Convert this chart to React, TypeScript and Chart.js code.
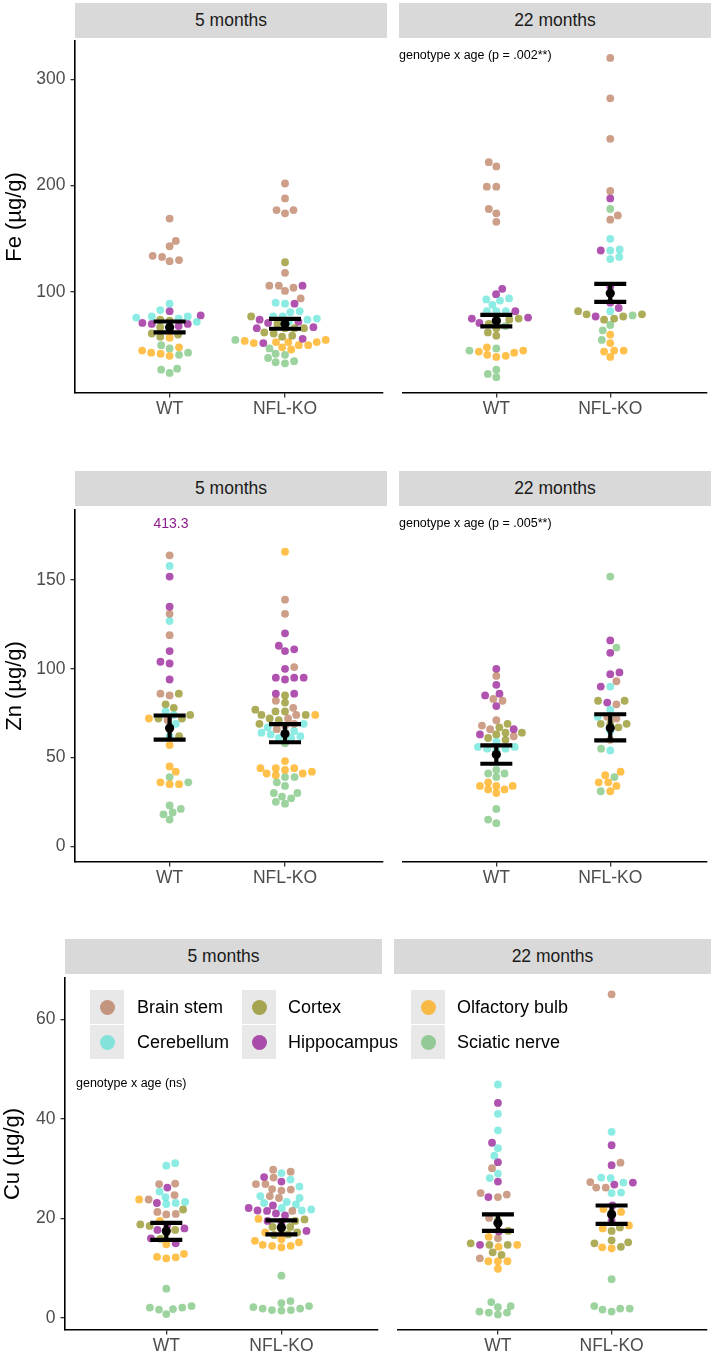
import React, { useEffect, useRef } from "react";
import { Chart, registerables } from "chart.js";
Chart.register(...registerables);

// ---------- categories ----------
const TISSUES = ["Brain stem", "Cerebellum", "Cortex", "Hippocampus", "Olfactory bulb", "Sciatic nerve"];
const TISSUE_COLORS = [
  "rgba(168,90,52,0.58)",
  "rgba(64,224,208,0.6)",
  "rgba(128,128,0,0.65)",
  "rgba(139,0,139,0.68)",
  "rgba(255,165,0,0.7)",
  "rgba(76,175,80,0.55)",
];
const GENOTYPES = ["WT", "NFL-KO"];
const AGES = ["5 months", "22 months"];

// ---------- Fe (µg/g), order of inner arrays follows TISSUES ----------
const FE_5M_WT = [
  [169, 148, 143, 134, 133, 130, 129],
  [72, 76, 83, 89, 77, 75, 77],
  [74, 61, 58, 67, 60, 73],
  [78, 68, 82, 66, 70, 70, 71],
  [57, 43, 40, 45, 42, 48],
  [50, 47, 41, 43, 27, 24, 28],
];
const FE_5M_KO = [
  [202, 188, 177, 174, 177, 118, 106, 104, 106, 101, 94],
  [89, 77, 81, 90, 82, 77, 74, 72, 75],
  [128, 70, 61, 66, 58, 66, 77, 59, 66, 62],
  [106, 89, 72, 66, 74, 56, 52, 67, 71],
  [53, 50, 53, 54, 48, 52, 46, 55, 50, 53],
  [55, 47, 38, 42, 34, 33, 41, 35],
];
const FE_22M_WT = [
  [222, 218, 199, 199, 178, 174, 166],
  [93, 94, 88, 82, 82, 92, 82],
  [70, 75, 74, 62, 59, 66],
  [103, 98, 82, 76, 71, 75],
  [44, 39, 48, 41, 45, 40, 43],
  [68, 73, 45, 47, 23, 20, 27],
];
const FE_22M_KO = [
  [320, 282, 244, 195, 172, 168],
  [150, 133, 139, 140, 131, 82],
  [79, 82, 74, 77, 75, 79],
  [188, 139, 105, 90, 77, 85],
  [45, 44, 39, 52, 45, 60],
  [178, 64, 55, 69, 78],
];
const FE_5M_MEAN = [66.8, 70.2];
const FE_5M_LOW = [62.0, 65.5];
const FE_5M_HIGH = [72.3, 74.8];
const FE_22M_MEAN = [73.0, 98.8];
const FE_22M_LOW = [67.7, 90.7];
const FE_22M_HIGH = [78.6, 107.7];
const FE_TICKS = [100, 200, 300];

// ---------- Zn (µg/g) ----------
const ZN_5M_WT = [
  [164, 131, 119, 85, 86, 66, 71],
  [158, 127, 74, 69, 76, 62],
  [86, 78, 80, 72, 74, 62, 72],
  [152, 135, 110, 103, 104, 94],
  [72, 57, 45, 42, 35, 36, 35],
  [36, 39, 21, 18, 15, 23, 19],
];
const ZN_5M_KO = [
  [139, 131, 101, 82, 78, 72, 69, 68, 74, 66],
  [62, 64, 63, 69, 65, 61, 64, 67, 61],
  [81, 85, 76, 76, 74, 69, 77, 74, 72, 71],
  [120, 110, 113, 111, 95, 100, 94, 95, 95, 86, 86],
  [166, 74, 48, 44, 44, 42, 44, 43, 41, 41, 40],
  [58, 36, 39, 39, 34, 28, 30, 30, 25, 24, 27],
];
const ZN_22M_WT = [
  [96, 82, 83, 71, 68, 62, 66],
  [55, 56, 55, 59, 56, 54],
  [69, 64, 63, 67, 64, 61, 60],
  [100, 91, 85, 86, 79, 66, 63],
  [34, 30, 36, 32, 34, 32, 34],
  [41, 43, 41, 39, 21, 15, 13],
];
const ZN_22M_KO = [
  [93, 80, 73, 72, 60],
  [90, 77, 73, 65, 54],
  [82, 82, 69, 69, 69, 67],
  [116, 109, 98, 97, 90, 81],
  [42, 40, 36, 36, 34, 31],
  [152, 112, 55, 39, 31],
];
const ZN_5M_MEAN = [66.6, 63.4];
const ZN_5M_LOW = [60.1, 58.6];
const ZN_5M_HIGH = [73.7, 68.8];
const ZN_22M_MEAN = [51.7, 66.6];
const ZN_22M_LOW = [46.5, 59.7];
const ZN_22M_HIGH = [56.9, 74.4];
const ZN_TICKS = [0, 50, 100, 150];
const ZN_OUTLIER_LABEL = "413.3";

// ---------- Cu (µg/g) ----------
const CU_5M_WT = [
  [27, 26.9, 24.7, 23.8, 20.9, 20.8, 21.3],
  [31.1, 30.6, 23.3, 25.4, 24.3, 22.9, 23.1],
  [21.8, 18.5, 17.2, 17.7, 18.8, 15.9],
  [26.2, 23.1, 18.6, 18, 16, 15, 17.7],
  [23.8, 19.5, 14.8, 12, 12.3, 12.2, 12.9],
  [5.9, 2.1, 1.7, 2.4, 0.8, 2.1, 1.8],
];
const CU_5M_KO = [
  [29.4, 29.8, 26.9, 25.8, 26.9, 28.2, 25.6, 25.9, 24.1, 24.5, 21.5],
  [29.1, 27.8, 26.4, 24.5, 24.1, 23.3, 21.6, 22.8, 21.8, 22.1, 23.1],
  [19.5, 18.3, 16.8, 19.8, 18.3, 16.7, 17.8, 17.2],
  [28.3, 27.4, 22.1, 20.6, 21.5, 21.6, 22.6, 21, 19.5, 17.5, 19.3],
  [15.2, 15.8, 14.2, 14.5, 15.5, 14.5, 14.7, 19.9, 17.2],
  [8.5, 2.4, 1.6, 1.5, 3.4, 1.9, 3, 1.9, 1.6, 2.2],
];
const CU_22M_WT = [
  [30.1, 25.1, 24.8, 24.3, 20.1, 16, 12],
  [46.9, 41, 37.7, 34.1, 32.6, 29, 28.1],
  [17.5, 14.7, 15, 13.2, 14.7, 12.7, 19.6],
  [43.2, 35.2, 31.3, 27.4, 24.3, 17.4, 14.7],
  [14.7, 16.3, 11.4, 11.4, 11.4, 9.9, 14.3],
  [1.3, 1.1, 2.4, 0.7, 2.2, 1.1, 3.2],
];
const CU_22M_KO = [
  [65, 31.2, 26.2, 26.2, 27.3, 21.2],
  [37.4, 27.2, 28.1, 25.1, 28.2, 25.2],
  [18.2, 17.5, 15.6, 15, 14.3, 15.2],
  [34.7, 30.7, 26.8, 27.2, 22.6, 19.5],
  [21.9, 21.3, 18.6, 18, 14.2, 14],
  [7.8, 1.9, 1.7, 1.3, 2.4, 1.9],
];
const CU_5M_MEAN = [17.5, 18.2];
const CU_5M_LOW = [15.7, 16.8];
const CU_5M_HIGH = [19.1, 19.6];
const CU_22M_MEAN = [19.1, 20.8];
const CU_22M_LOW = [17.5, 18.9];
const CU_22M_HIGH = [20.8, 22.6];
const CU_TICKS = [0, 20, 40, 60];

const ANNOT_FE = "genotype x age (p = .002**)";
const ANNOT_ZN = "genotype x age (p = .005**)";
const ANNOT_CU = "genotype x age (ns)";

// ---------- styling ----------
const FONT = "'Liberation Sans', Arial, Helvetica, sans-serif";
const POINT_R = 3.9;
const SWARM_DX = 9.5;
const SWARM_DY = 7.0;

type PanelProps = {
  wt: number[][];
  ko: number[][];
  mean: number[];
  low: number[];
  high: number[];
  yMin: number;
  yMax: number;
  yTicks: number[];
  xMin: number;
  xMax: number;
  showY: boolean;
  yTitle: string;
  titlePad: number;
  yAxisW: number;
  left: number;
  top: number;
  width: number;
  height: number;
  xAxisH: number;
};

// beeswarm layout: collision in an ellipse (wider horizontally than vertically)
function applySwarm(chart: any) {
  const xs = chart.scales.x;
  const ys = chart.scales.y;
  const unit = xs.getPixelForValue(2) - xs.getPixelForValue(1);
  [1, 2].forEach((g) => {
    const pts: any[] = [];
    chart.data.datasets.forEach((ds: any) =>
      ds.data.forEach((pt: any) => {
        if (pt.g === g) pts.push({ pt, py: ys.getPixelForValue(pt.y), px: 0 });
      })
    );
    pts.sort((a, b) => b.py - a.py);
    const placed: any[] = [];
    const ok = (c: number, p: any) =>
      placed.every((q) => ((c - q.px) / SWARM_DX) ** 2 + ((p.py - q.py) / SWARM_DY) ** 2 >= 0.999);
    pts.forEach((p, k) => {
      const cands = [0];
      placed.forEach((q) => {
        const dy = Math.abs(p.py - q.py) / SWARM_DY;
        if (dy < 1) {
          const w = SWARM_DX * Math.sqrt(1 - dy * dy);
          cands.push(q.px + w, q.px - w);
        }
      });
      const sign = k % 2 === 0 ? 1 : -1;
      cands.sort((a, b) => Math.abs(a) - Math.abs(b) || sign * (b - a));
      let chosen = 0;
      for (const c of cands) {
        if (ok(c, p)) {
          chosen = c;
          break;
        }
      }
      p.px = chosen;
      placed.push(p);
      p.pt.x = g + chosen / unit;
    });
  });
}

function Panel(p: PanelProps) {
  const ref = useRef<HTMLCanvasElement>(null);
  useEffect(() => {
    if (!ref.current) return;
    const groups = [p.wt, p.ko];
    const datasets = TISSUES.map((t, ti) => ({
      label: t,
      data: groups.flatMap((gr, gi) => gr[ti].map((v) => ({ x: gi + 1, y: v, g: gi + 1 }))),
      backgroundColor: TISSUE_COLORS[ti],
      borderWidth: 0,
      pointRadius: POINT_R,
      pointHoverRadius: POINT_R,
    }));
    const errorBars = {
      id: "errorBars",
      afterDatasetsDraw(chart: any) {
        const { ctx } = chart;
        const xs = chart.scales.x;
        const ys = chart.scales.y;
        ctx.save();
        ctx.strokeStyle = "#000";
        ctx.fillStyle = "#000";
        ctx.lineWidth = 4.2;
        ctx.lineCap = "butt";
        for (let g = 0; g < 2; g++) {
          const x = xs.getPixelForValue(g + 1);
          const yl = ys.getPixelForValue(p.low[g]);
          const yh = ys.getPixelForValue(p.high[g]);
          const ym = ys.getPixelForValue(p.mean[g]);
          ctx.beginPath();
          ctx.moveTo(x, yl);
          ctx.lineTo(x, yh);
          ctx.moveTo(x - 16, yl);
          ctx.lineTo(x + 16, yl);
          ctx.moveTo(x - 16, yh);
          ctx.lineTo(x + 16, yh);
          ctx.stroke();
          ctx.beginPath();
          ctx.arc(x, ym, 4.6, 0, Math.PI * 2);
          ctx.fill();
        }
        ctx.restore();
      },
    };
    const gridOpts = {
      drawOnChartArea: false,
      drawTicks: true,
      tickLength: 4.5,
      color: "#333333",
      lineWidth: 1.3,
    };
    const zeroPad = (s: any) => {
      s.paddingTop = 0;
      s.paddingBottom = 0;
      s.paddingLeft = 0;
      s.paddingRight = 0;
    };
    const chart = new Chart(ref.current, {
      type: "scatter",
      data: { datasets } as any,
      options: {
        animation: false,
        responsive: true,
        maintainAspectRatio: false,
        events: [],
        layout: { padding: 0 },
        plugins: { legend: { display: false }, tooltip: { enabled: false } },
        scales: {
          x: {
            type: "linear",
            min: p.xMin,
            max: p.xMax,
            afterBuildTicks: (s: any) => {
              s.ticks = GENOTYPES.map((_, i) => ({ value: i + 1 }));
            },
            afterFit: (s: any) => {
              s.height = p.xAxisH;
              zeroPad(s);
            },
            ticks: {
              callback: (v: any) => GENOTYPES[Math.round(v) - 1] ?? "",
              color: "#4d4d4d",
              font: { family: FONT, size: 17.5 },
              padding: 1,
              maxRotation: 0,
              autoSkip: false,
            },
            grid: gridOpts,
            border: { display: true, color: "#000", width: 1.6 },
          },
          y: {
            type: "linear",
            display: p.showY,
            min: p.yMin,
            max: p.yMax,
            afterBuildTicks: (s: any) => {
              s.ticks = p.yTicks.map((v) => ({ value: v }));
            },
            afterFit: (s: any) => {
              s.width = p.showY ? p.yAxisW : 0;
              zeroPad(s);
            },
            ticks: {
              color: "#4d4d4d",
              font: { family: FONT, size: 17.5 },
              padding: 5,
            },
            grid: gridOpts,
            border: { display: true, color: "#000", width: 1.6 },
            title: {
              display: true,
              text: p.yTitle,
              color: "#000",
              font: { family: FONT, size: 22 },
              padding: { top: p.titlePad, bottom: 0 },
            },
          },
        },
      } as any,
      plugins: [errorBars],
    });
    applySwarm(chart);
    chart.update("none");
    return () => chart.destroy();
  }, []);
  return (
    <div style={{ position: "absolute", left: p.left, top: p.top, width: p.width, height: p.height }}>
      <canvas ref={ref} />
    </div>
  );
}

type RowDef = {
  title: string;
  data: number[][][][];
  mean: number[][];
  low: number[][];
  high: number[][];
  ticks: number[];
  yMin: number;
  yMax: number;
  stripTop: number;
  plotTop: number;
  plotBottom: number;
  leftX: [number, number];
  rightX: [number, number];
  yAxisW: number;
  xAxisH: number;
  xMin: number;
  xMax: number;
  titlePad: number;
};

const ROWS: RowDef[] = [
  {
    title: "Fe (µg/g)",
    data: [[FE_5M_WT, FE_5M_KO], [FE_22M_WT, FE_22M_KO]],
    mean: [FE_5M_MEAN, FE_22M_MEAN],
    low: [FE_5M_LOW, FE_22M_LOW],
    high: [FE_5M_HIGH, FE_22M_HIGH],
    ticks: FE_TICKS,
    yMin: 5.1,
    yMax: 336,
    stripTop: 2.5,
    plotTop: 37,
    plotBottom: 393,
    leftX: [75, 387],
    rightX: [399, 711],
    yAxisW: 75,
    xAxisH: 34,
    xMin: 0.18,
    xMax: 2.85,
    titlePad: 2,
  },
  {
    title: "Zn (µg/g)",
    data: [[ZN_5M_WT, ZN_5M_KO], [ZN_22M_WT, ZN_22M_KO]],
    mean: [ZN_5M_MEAN, ZN_22M_MEAN],
    low: [ZN_5M_LOW, ZN_22M_LOW],
    high: [ZN_5M_HIGH, ZN_22M_HIGH],
    ticks: ZN_TICKS,
    yMin: -8.9,
    yMax: 189.6,
    stripTop: 471,
    plotTop: 506,
    plotBottom: 862,
    leftX: [75, 387],
    rightX: [399, 711],
    yAxisW: 75,
    xAxisH: 34,
    xMin: 0.18,
    xMax: 2.85,
    titlePad: 2,
  },
  {
    title: "Cu (µg/g)",
    data: [[CU_5M_WT, CU_5M_KO], [CU_22M_WT, CU_22M_KO]],
    mean: [CU_5M_MEAN, CU_22M_MEAN],
    low: [CU_5M_LOW, CU_22M_LOW],
    high: [CU_5M_HIGH, CU_22M_HIGH],
    ticks: CU_TICKS,
    yMin: -2.4,
    yMax: 68.3,
    stripTop: 939,
    plotTop: 974,
    plotBottom: 1330,
    leftX: [65, 382],
    rightX: [394, 711],
    yAxisW: 65,
    xAxisH: 27,
    xMin: 0.12,
    xMax: 2.84,
    titlePad: 0,
  },
];

const LEGEND_COLS = [
  { key: 90, text: 137 },
  { key: 242, text: 288 },
  { key: 411, text: 457 },
];
const LEGEND_ROWS = [990, 1025];

function Strip({ left, top, width, text }: { left: number; top: number; width: number; text: string }) {
  return (
    <div
      style={{
        position: "absolute",
        left,
        top,
        width,
        height: 35,
        background: "#d9d9d9",
        color: "#1a1a1a",
        fontSize: 17.5,
        display: "flex",
        alignItems: "center",
        justifyContent: "center",
      }}
    >
      {text}
    </div>
  );
}

function Note({ left, top, text, size, color, center }: any) {
  return (
    <div
      style={{
        position: "absolute",
        left: center ? left - 60 : left,
        top: top - size * 0.6,
        width: center ? 120 : undefined,
        textAlign: center ? "center" : "left",
        fontSize: size,
        lineHeight: `${size * 1.2}px`,
        color,
        whiteSpace: "nowrap",
      }}
    >
      {text}
    </div>
  );
}

export default function App() {
  return (
    <div
      style={{
        position: "absolute",
        left: 0,
        top: 0,
        width: 714,
        height: 1357,
        overflow: "hidden",
        background: "#fff",
        fontFamily: FONT,
      }}
    >
      {ROWS.map((r, ri) => (
        <React.Fragment key={ri}>
          {[r.leftX, r.rightX].map((xr, ai) => (
            <Strip key={"s" + ai} left={xr[0]} top={r.stripTop} width={xr[1] - xr[0]} text={AGES[ai]} />
          ))}
          {[0, 1].map((ai) => {
            const isLeft = ai === 0;
            const xr = isLeft ? r.leftX : r.rightX;
            const left = isLeft ? 0 : xr[0];
            return (
              <Panel
                key={"p" + ai}
                wt={r.data[ai][0]}
                ko={r.data[ai][1]}
                mean={r.mean[ai]}
                low={r.low[ai]}
                high={r.high[ai]}
                yMin={r.yMin}
                yMax={r.yMax}
                yTicks={r.ticks}
                xMin={r.xMin}
                xMax={r.xMax}
                showY={isLeft}
                yTitle={r.title}
                titlePad={r.titlePad}
                yAxisW={r.yAxisW}
                left={left}
                top={r.plotTop}
                width={xr[1] - left}
                height={r.plotBottom - r.plotTop + r.xAxisH}
                xAxisH={r.xAxisH}
              />
            );
          })}
        </React.Fragment>
      ))}
      <Note left={399} top={55} text={ANNOT_FE} size={12.5} color="#000" />
      <Note left={399} top={523} text={ANNOT_ZN} size={12.5} color="#000" />
      <Note left={76} top={1083} text={ANNOT_CU} size={12.5} color="#000" />
      <Note left={171} top={523} text={ZN_OUTLIER_LABEL} size={14} color="#8B1C8B" center />
      {TISSUES.map((t, i) => {
        const col = LEGEND_COLS[Math.floor(i / 2)];
        const top = LEGEND_ROWS[i % 2];
        return (
          <React.Fragment key={t}>
            <div
              style={{
                position: "absolute",
                left: col.key,
                top,
                width: 34,
                height: 34,
                background: "#e8e8e8",
                display: "flex",
                alignItems: "center",
                justifyContent: "center",
              }}
            >
              <div style={{ width: 15, height: 15, borderRadius: "50%", background: TISSUE_COLORS[i] }} />
            </div>
            <div
              style={{
                position: "absolute",
                left: col.text,
                top,
                height: 34,
                display: "flex",
                alignItems: "center",
                fontSize: 18,
                color: "#000",
                whiteSpace: "nowrap",
              }}
            >
              {t}
            </div>
          </React.Fragment>
        );
      })}
    </div>
  );
}
